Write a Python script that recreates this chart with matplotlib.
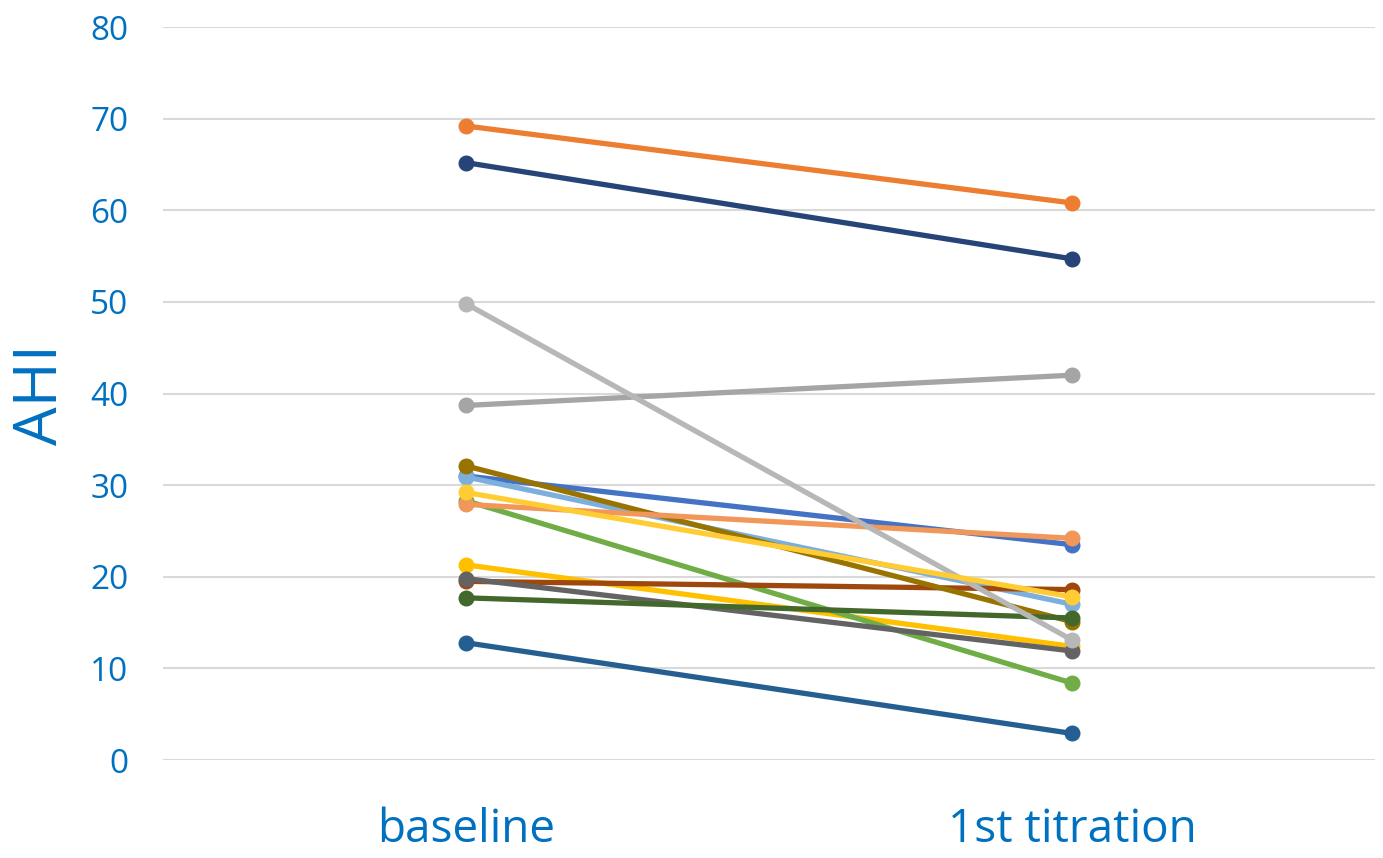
import matplotlib
matplotlib.use("Agg")
import matplotlib.pyplot as plt

# --- data ---
categories = ["baseline", "1st titration"]

series_colors = [
    "#4472C4", "#ED7D31", "#A5A5A5", "#FFC000", "#7CAFDD", "#70AD47",
    "#264478", "#9E480E", "#636363", "#997300", "#255E91", "#43682B",
    "#F1975A", "#B7B7B7", "#FFCD33",
]
baseline_ahi = [
    31.0, 69.2, 38.7, 21.3, 30.9, 28.3,
    65.2, 19.5, 19.8, 32.1, 12.8, 17.7,
    27.9, 49.8, 29.2,
]
titration_ahi = [
    23.5, 60.8, 42.0, 12.4, 17.0, 8.4,
    54.7, 18.6, 11.9, 15.1, 2.9, 15.5,
    24.2, 13.1, 17.8,
]
y_ticks = [0, 10, 20, 30, 40, 50, 60, 70, 80]

text_blue = "#0070C0"
plt.rcParams["font.family"] = ["Open Sans", "DejaVu Sans"]

fig = plt.figure(figsize=(13.83, 8.58), dpi=100)
ax = fig.add_axes([0.1179, 0.1142, 0.8763, 0.8543])

x = list(range(len(categories)))
for col, b, t in zip(series_colors, baseline_ahi, titration_ahi):
    ax.plot(x, [b, t], color=col, linewidth=3.8, marker="o",
            markersize=10.5, solid_capstyle="round", zorder=3)

ax.set_xlim(-0.5, 1.5)
ax.set_ylim(0, 80)
ax.set_yticks(y_ticks)
ax.set_xticks(x)
ax.set_xticklabels(categories)
ax.grid(axis="y", color="#D9D9D9", linewidth=1.5)
ax.set_axisbelow(True)
for s in ax.spines.values():
    s.set_visible(False)
ax.tick_params(axis="y", length=0, pad=25, labelsize=24, labelcolor=text_blue)
ax.tick_params(axis="x", length=0, pad=34, labelsize=33, labelcolor=text_blue)

fig.text(41 / 1383, 1 - 395 / 858, "AHI", rotation=90, ha="center",
         va="center", fontsize=44, color=text_blue)

fig.savefig("out.png", dpi=100)
